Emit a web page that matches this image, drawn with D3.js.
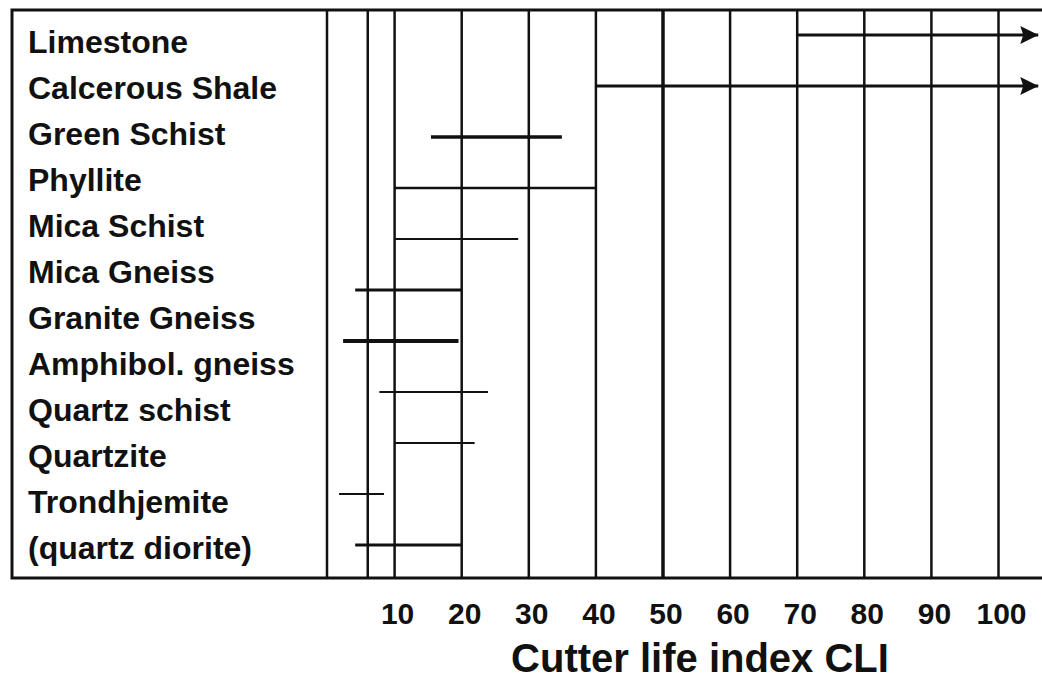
<!DOCTYPE html>
<html>
<head>
<meta charset="utf-8">
<script src="https://cdn.jsdelivr.net/npm/d3@7"></script>
<style>
  body { margin: 0; background: #fff; }
  svg { display: block; }
  text { font-family: "Liberation Sans", Arial, sans-serif; font-weight: bold; fill: #111; }
</style>
</head>
<body>
<svg width="1042" height="681"></svg>
<script>
// rock types, top to bottom
var rocks = ["Limestone", "Calcerous Shale", "Green Schist", "Phyllite", "Mica Schist",
             "Mica Gneiss", "Granite Gneiss", "Amphibol. gneiss", "Quartz schist",
             "Quartzite", "Trondhjemite\n(quartz diorite)"];
// CLI range (106 = runs off the right edge, drawn with arrow)
var cliLow  = [70, 40, 15.5, 10, 10,   4.2, 2.4, 7.8, 10, 1.8, 4.2];
var cliHigh = [106, 106, 35, 40, 28.5, 20, 19.6, 24, 22, 8.5, 20];
var openEnded = [true, true, false, false, false, false, false, false, false, false, false];

var gridValues = [6, 10, 20, 30, 40, 50, 60, 70, 80, 90, 100];
var tickLabels = [10, 20, 30, 40, 50, 60, 70, 80, 90, 100];

var svg = d3.select("svg"),
    width = +svg.attr("width"),
    height = +svg.attr("height");

var frameLeft = 12, frameTop = 10, frameBottom = 578;

var x = d3.scaleLinear().domain([0, 100]).range([327, 998]);
var yLine = d3.scalePoint().domain(rocks).range([35, 545]);

var labelLines = [];
rocks.forEach(function(r) { r.split("\n").forEach(function(s) { labelLines.push(s); }); });
var yLabel = d3.scalePoint().domain(d3.range(labelLines.length)).range([53, 559]);

// heavier strokes where the original pen was thicker
var heavy = {"Green Schist": 3.5, "Mica Gneiss": 3, "Granite Gneiss": 4, "Trondhjemite\n(quartz diorite)": 3,
             "Limestone": 3, "Calcerous Shale": 3, "Phyllite": 2.5};

svg.append("defs").append("marker")
    .attr("id", "arrow")
    .attr("markerUnits", "userSpaceOnUse")
    .attr("viewBox", "0 0 18 18")
    .attr("refX", 18).attr("refY", 9)
    .attr("markerWidth", 18).attr("markerHeight", 18)
    .attr("orient", "auto")
  .append("path")
    .attr("d", "M0,0L18,9L0,18L3,9Z")
    .attr("fill", "#111");

// grid lines
svg.append("g")
    .attr("transform", "translate(0," + frameBottom + ")")
    .call(d3.axisTop(x).tickValues(gridValues).tickSize(frameBottom - frameTop).tickFormat(""))
    .call(function(g) { g.select(".domain").remove(); })
    .selectAll("line")
      .attr("stroke", "#111")
      .attr("stroke-width", function(d) { return d === 50 ? 3.5 : 2.5; });

// frame
svg.append("rect")
    .attr("x", frameLeft).attr("y", frameTop)
    .attr("width", width + 20 - frameLeft).attr("height", frameBottom - frameTop)
    .attr("fill", "none").attr("stroke", "#111").attr("stroke-width", 3);

svg.append("line")
    .attr("x1", x(0)).attr("x2", x(0))
    .attr("y1", frameTop).attr("y2", frameBottom)
    .attr("stroke", "#111").attr("stroke-width", 2.5);

// ranges
svg.append("g")
  .selectAll("line")
  .data(rocks)
  .enter().append("line")
    .attr("x1", function(d, i) { return x(cliLow[i]); })
    .attr("x2", function(d, i) { return x(cliHigh[i]); })
    .attr("y1", function(d) { return yLine(d); })
    .attr("y2", function(d) { return yLine(d); })
    .attr("stroke", "#111")
    .attr("stroke-width", function(d) { return heavy[d] || 2; })
    .attr("marker-end", function(d, i) { return openEnded[i] ? "url(#arrow)" : null; });

// rock labels
svg.append("g")
  .selectAll("text")
  .data(labelLines)
  .enter().append("text")
    .attr("x", 28)
    .attr("y", function(d, i) { return yLabel(i); })
    .attr("font-size", 32)
    .text(function(d) { return d; });

// tick labels
svg.append("g")
    .attr("transform", "translate(3,602)")
    .call(d3.axisBottom(x).tickValues(tickLabels).tickSize(0).tickPadding(0))
    .call(function(g) { g.select(".domain").remove(); })
    .selectAll("text")
      .attr("font-size", 30)
      .attr("font-family", "Liberation Sans, Arial, sans-serif")
      .attr("font-weight", "bold")
      .attr("fill", "#111")
      .attr("dy", "0.73em");

svg.append("text")
    .attr("x", 700)
    .attr("y", 672)
    .attr("text-anchor", "middle")
    .attr("font-size", 40)
    .text("Cutter life index CLI");
</script>
</body>
</html>
